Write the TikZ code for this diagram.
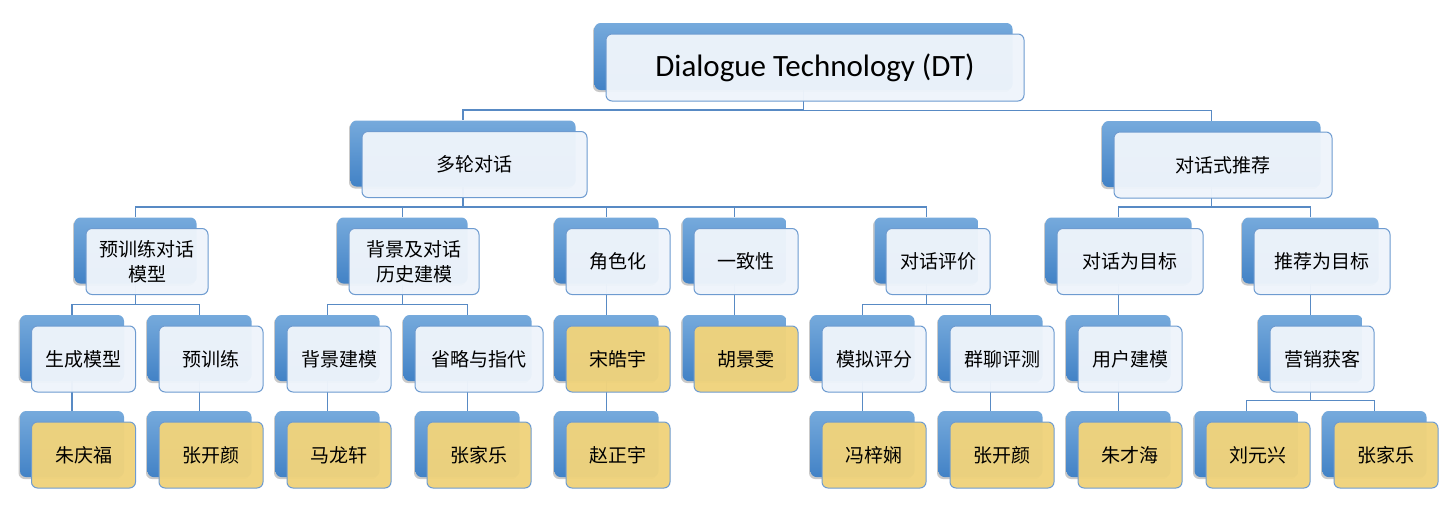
\documentclass[tikz,border=0pt]{standalone}
\usepackage{fontspec}
\usepackage{tikz}
\usetikzlibrary{positioning, backgrounds, shadows}
\setmainfont{Carlito}
\newfontfamily\cjk{Noto Sans CJK SC}
\definecolor{backtop}{RGB}{118, 170, 220}
\definecolor{backbot}{RGB}{66, 130, 198}
\definecolor{frontfill}{RGB}{238, 244, 251}
\definecolor{frontline}{RGB}{110, 155, 208}
\definecolor{leaffill}{RGB}{240, 211, 124}
\definecolor{linkblue}{RGB}{88, 138, 196}

\begin{document}
\begin{tikzpicture}[
    x=1pt, y=-1pt,
    back/.style={rectangle, rounded corners=6pt, inner sep=0pt, draw=none,
                 top color=backtop, bottom color=backbot,
                 minimum width=104pt, minimum height=66pt, xshift=-11.5pt, yshift=11pt,
                 drop shadow={shadow xshift=-1.5pt, shadow yshift=-2pt, opacity=0.3, fill=black!70}},
    front/.style={rectangle, rounded corners=6pt, inner sep=0pt, draw=frontline, line width=1pt,
                  fill=frontfill, fill opacity=0.97, text opacity=1,
                  minimum width=104pt, minimum height=66pt, align=center,
                  font=\cjk\fontsize{19}{25}\selectfont},
    leaf/.style={front, fill=leaffill},
    link/.style={draw=linkblue, line width=1.5pt}
]
    \useasboundingbox (0,0) rectangle (1448,506);

    % root
    \node[back, minimum width=418pt, minimum height=67pt] (dtb) at (815,67.5) {};
    \node[front, minimum width=418pt, minimum height=67pt, font=\fontsize{31}{36}\selectfont] (dt) at (815,67.5) {Dialogue Technology (DT)};

    % second level
    \node[back, minimum width=225pt] (mtb) at (474.5,164.5) {};
    \node[front, minimum width=225pt] (mt) at (474.5,164.5) {多轮对话};
    \node[back, minimum width=218pt] (crb) at (1223,165) {};
    \node[front, minimum width=218pt] (cr) at (1223,165) {对话式推荐};

    % third level
    \node[back, minimum width=122pt] (preb) at (147,261.5) {};
    \node[front, minimum width=122pt] (pre) at (147,261.5) {预训练对话\\模型};
    \node[back, minimum width=130pt] (histb) at (414,261.5) {};
    \node[front, minimum width=130pt] (hist) at (414,261.5) {背景及对话\\历史建模};
    \node[back] (roleb) at (618,261.5) {};
    \node[front] (role) at (618,261.5) {角色化};
    \node[back] (consb) at (746,261.5) {};
    \node[front] (cons) at (746,261.5) {一致性};
    \node[back] (evalb) at (938,261.5) {};
    \node[front] (eval) at (938,261.5) {对话评价};
    \node[back, minimum width=146pt] (dgoalb) at (1130,261.5) {};
    \node[front, minimum width=146pt] (dgoal) at (1130,261.5) {对话为目标};
    \node[back, minimum width=136pt] (rgoalb) at (1322,261.5) {};
    \node[front, minimum width=136pt] (rgoal) at (1322,261.5) {推荐为目标};

    % fourth level
    \node[back] (genb) at (83.5,359) {};
    \node[front] (gen) at (83.5,359) {生成模型};
    \node[back] (ptrb) at (211,359) {};
    \node[front] (ptr) at (211,359) {预训练};
    \node[back] (bgmb) at (339,359) {};
    \node[front] (bgm) at (339,359) {背景建模};
    \node[back, minimum width=128pt] (ellb) at (479,359) {};
    \node[front, minimum width=128pt] (ell) at (479,359) {省略与指代};
    \node[back] (songb) at (618,359) {};
    \node[leaf] (song) at (618,359) {宋皓宇};
    \node[back] (hub) at (746,359) {};
    \node[leaf] (hu) at (746,359) {胡景雯};
    \node[back] (simb) at (874,359) {};
    \node[front] (sim) at (874,359) {模拟评分};
    \node[back] (grpb) at (1002,359) {};
    \node[front] (grp) at (1002,359) {群聊评测};
    \node[back] (userb) at (1130,359) {};
    \node[front] (user) at (1130,359) {用户建模};
    \node[back] (mktb) at (1322,359) {};
    \node[front] (mkt) at (1322,359) {营销获客};

    % people
    \node[back] (zhub) at (83.5,455) {};
    \node[leaf] (zhu) at (83.5,455) {朱庆福};
    \node[back] (kyab) at (211,455) {};
    \node[leaf] (kya) at (211,455) {张开颜};
    \node[back] (mab) at (339,455) {};
    \node[leaf] (ma) at (339,455) {马龙轩};
    \node[back] (jlab) at (479,455) {};
    \node[leaf] (jla) at (479,455) {张家乐};
    \node[back] (zhaob) at (618,455) {};
    \node[leaf] (zhao) at (618,455) {赵正宇};
    \node[back] (fengb) at (874,455) {};
    \node[leaf] (feng) at (874,455) {冯梓娴};
    \node[back] (kybb) at (1002,455) {};
    \node[leaf] (kyb) at (1002,455) {张开颜};
    \node[back] (zcb) at (1130,455) {};
    \node[leaf] (zc) at (1130,455) {朱才海};
    \node[back] (liub) at (1258,455) {};
    \node[leaf] (liu) at (1258,455) {刘元兴};
    \node[back] (jlbb) at (1386,455) {};
    \node[leaf] (jlb) at (1386,455) {张家乐};

    \begin{scope}[on background layer]
        \foreach \p/\c in {dtb/mtb, dtb/crb,
                           mtb/preb, mtb/histb, mtb/roleb, mtb/consb, mtb/evalb,
                           crb/dgoalb, crb/rgoalb,
                           preb/genb, preb/ptrb, histb/bgmb, histb/ellb,
                           roleb/songb, consb/hub, evalb/simb, evalb/grpb,
                           dgoalb/userb, rgoalb/mktb,
                           genb/zhub, ptrb/kyab, bgmb/mab, ellb/jlab, songb/zhaob,
                           simb/fengb, grpb/kybb, userb/zcb, mktb/liub, mktb/jlbb}
            \draw[link] (\p.south) |- ([yshift=10.5pt]\c.north) -- (\c.north);
    \end{scope}
\end{tikzpicture}
\end{document}
